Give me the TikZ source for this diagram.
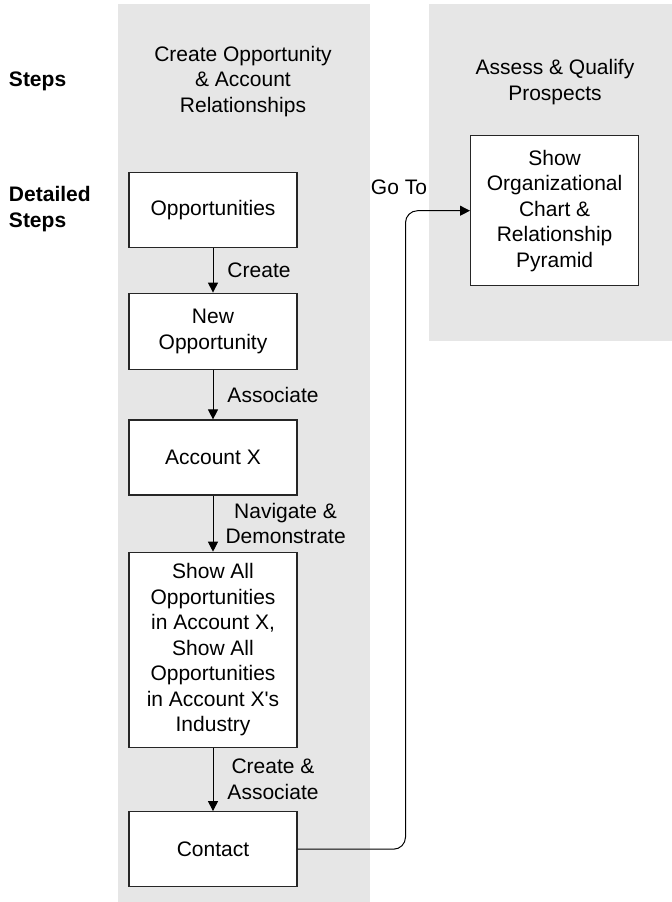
\documentclass[tikz,border=0pt]{standalone}
\usepackage{fontspec}
\setmainfont{Liberation Sans}[Ligatures=TeXOff]
\usetikzlibrary{arrows.meta}
\definecolor{lanegray}{HTML}{E6E6E6}
\tikzset{
  px/.style={x=0.5pt,y=-0.5pt},
  lane/.style={fill=lanegray,draw=none},
  stepbox/.style={draw=black!85,line width=0.6pt,fill=white,align=center,
    minimum width=84pt,inner sep=2pt,font=\fontsize{10.5}{12.75}\selectfont},
  txt/.style={align=center,inner sep=0pt,font=\fontsize{10.5}{12.75}\selectfont},
  hdr/.style={align=left,inner sep=0pt,anchor=west,font=\bfseries\fontsize{10.5}{12.75}\selectfont},
  lbl/.style={align=center,inner sep=0pt,anchor=west,xshift=7pt,font=\fontsize{10.5}{12.75}\selectfont},
  arr/.style={line width=0.5pt,-{Triangle[length=5pt,width=5pt]}}
}
\begin{document}
\begin{tikzpicture}[px]
  \useasboundingbox (0,0) rectangle (672,902);
  % swimlane backgrounds
  \fill[lane] (118,4) rectangle (369.5,902);
  \fill[lane] (428.6,4) rectangle (672,340.7);

  % row headers
  \node[hdr] (steps) at (8.6,81.7) {Steps};
  \node[hdr] (detailed) at (8.6,209) {Detailed\\Steps};

  % lane titles
  \node[txt] (title1) at (243,81.5) {Create Opportunity\\\& Account\\Relationships};
  \node[txt] (title2) at (555,82) {Assess \& Qualify\\Prospects};

  % process steps
  \node[stepbox,minimum height=37.5pt] (opp) at (213,209.8) {Opportunities};
  \node[stepbox,minimum height=38pt] (newopp) at (213,331.2) {New\\Opportunity};
  \node[stepbox,minimum height=37.5pt] (acct) at (213,457.5) {Account X};
  \node[stepbox,minimum height=97.5pt] (showall) at (213,649.8)
    {Show All\\Opportunities\\in Account X,\\Show All\\Opportunities\\in Account X's\\Industry};
  \node[stepbox,minimum height=37.5pt] (contact) at (213,849.2) {Contact};
  \node[stepbox,minimum height=75pt] (org) at (554.6,210.7)
    {Show\\Organizational\\Chart \&\\Relationship\\Pyramid};

  % flow connectors
  \draw[arr] (opp) -- node[lbl] {Create} (newopp);
  \draw[arr] (newopp) -- node[lbl] {Associate} (acct);
  \draw[arr] (acct) -- node[lbl,xshift=-1pt] {Navigate \&\\Demonstrate} (showall);
  \draw[arr] (showall) -- node[lbl] {Create \&\\Associate} (contact);

  % link into the second lane
  \coordinate (bend) at (405.5,500);
  \node[txt] (goto) at (399,187) {Go To};
  \draw[arr,rounded corners=6pt] (contact.east) -- (contact.east -| bend)
    -- (bend |- org.west) -- (org.west);
\end{tikzpicture}
\end{document}
